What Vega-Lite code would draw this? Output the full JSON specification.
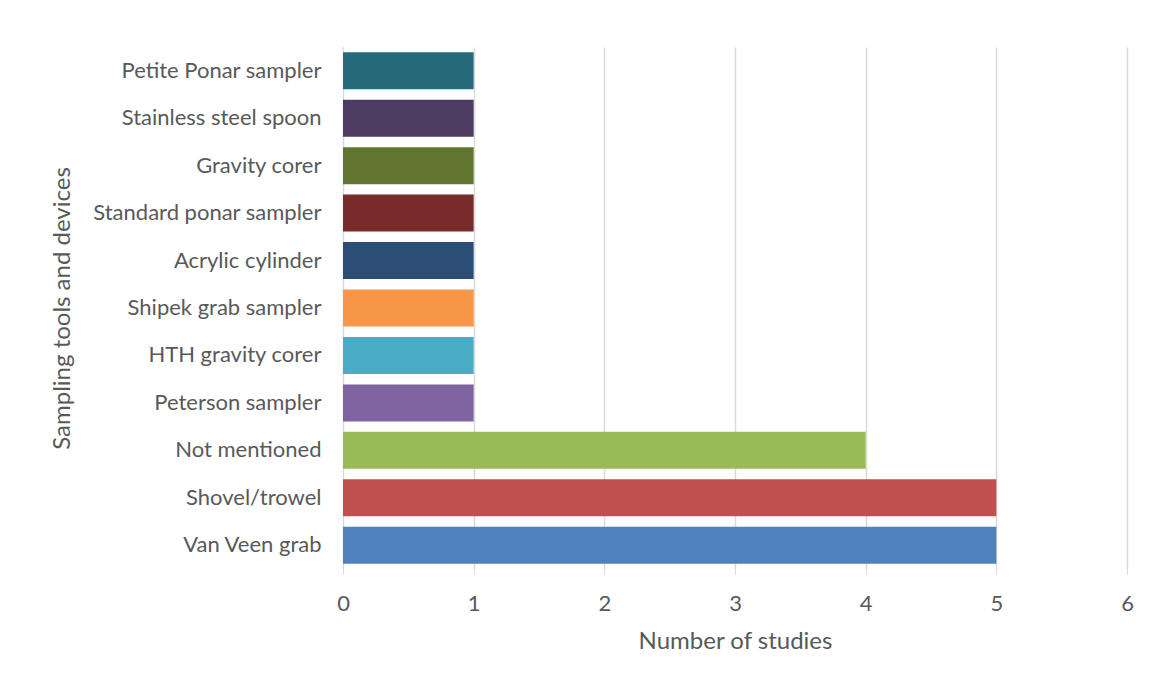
{
  "$schema": "https://vega.github.io/schema/vega-lite/v6.json",
  "width": 784,
  "height": 522,
  "autosize": "none",
  "padding": {"left": 343, "top": 47, "right": 23, "bottom": 110},
  "background": "white",
  "config": {
    "view": {"stroke": null},
    "font": "Lato"
  },
  "data": {
    "values": [
      {"tool": "Petite Ponar sampler", "studies": 1, "color": "#276A7C"},
      {"tool": "Stainless steel spoon", "studies": 1, "color": "#4D3B62"},
      {"tool": "Gravity corer", "studies": 1, "color": "#5F7530"},
      {"tool": "Standard ponar sampler", "studies": 1, "color": "#772C2A"},
      {"tool": "Acrylic cylinder", "studies": 1, "color": "#2C4D75"},
      {"tool": "Shipek grab sampler", "studies": 1, "color": "#F79646"},
      {"tool": "HTH gravity corer", "studies": 1, "color": "#4BACC6"},
      {"tool": "Peterson sampler", "studies": 1, "color": "#8064A2"},
      {"tool": "Not mentioned", "studies": 4, "color": "#9BBB59"},
      {"tool": "Shovel/trowel", "studies": 5, "color": "#C0504D"},
      {"tool": "Van Veen grab", "studies": 5, "color": "#4F81BD"}
    ]
  },
  "mark": {"type": "bar"},
  "encoding": {
    "y": {
      "field": "tool",
      "type": "nominal",
      "sort": null,
      "scale": {"paddingInner": 0.22, "paddingOuter": 0.11},
      "axis": {
        "title": "Sampling tools and devices",
        "titleFont": "Lato",
        "titleFontSize": 24,
        "titleFontWeight": "normal",
        "titleColor": "#595959",
        "titleX": -281,
        "titleBaseline": "middle",
        "labelFont": "Lato",
        "labelFontSize": 22,
        "labelColor": "#595959",
        "labelPadding": 22,
        "labelLimit": 400,
        "ticks": false,
        "domain": true,
        "domainColor": "#d9d9d9",
        "domainWidth": 1
      }
    },
    "x": {
      "field": "studies",
      "type": "quantitative",
      "scale": {"domain": [0, 6], "nice": false},
      "axis": {
        "values": [0, 1, 2, 3, 4, 5, 6],
        "format": "d",
        "title": "Number of studies",
        "titleFont": "Lato",
        "titleFontSize": 24,
        "titleFontWeight": "normal",
        "titleColor": "#595959",
        "titlePadding": 15,
        "labelFont": "Lato",
        "labelFontSize": 22,
        "labelColor": "#595959",
        "labelPadding": 19,
        "labelFlush": false,
        "grid": true,
        "gridColor": "#d9d9d9",
        "gridWidth": 1.5,
        "tickColor": "#d9d9d9",
        "tickSize": 5,
        "domain": false
      }
    },
    "color": {"field": "color", "type": "nominal", "scale": null, "legend": null}
  }
}
